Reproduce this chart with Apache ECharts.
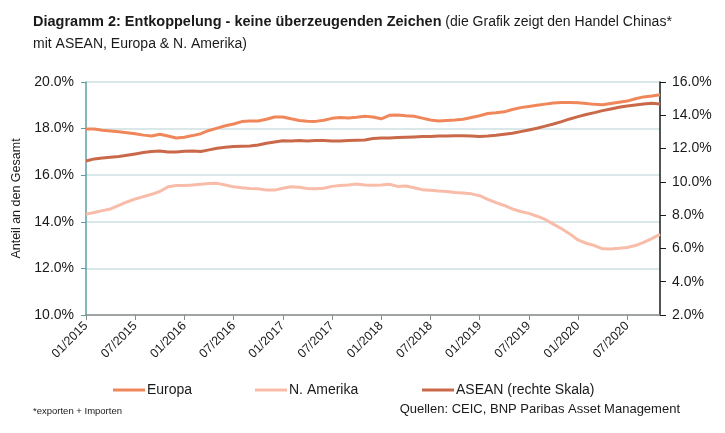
<!DOCTYPE html>
<html>
<head>
<meta charset="utf-8">
<script src="https://cdn.jsdelivr.net/npm/echarts@6/dist/echarts.min.js"></script>
<style>
    html, body { margin: 0; padding: 0; background: #fff; }
    #main { width: 725px; height: 433px; }
</style>
</head>
<body>
<div id="main"></div>
<script>
// Monate 01/2015 - 11/2020
var months = [];
for (var y = 2015; y <= 2020; y++) {
    for (var m = 1; m <= 12; m++) {
        if (y === 2020 && m > 11) break;
        months.push((m < 10 ? '0' + m : '' + m) + '/' + y);
    }
}

// Anteil am Handel Chinas in %
var europa = [
    17.98, 17.98, 17.93, 17.90, 17.86, 17.82, 17.78, 17.72, 17.68, 17.76, 17.68, 17.60,
    17.63, 17.70, 17.78, 17.92, 18.02, 18.12, 18.20, 18.30, 18.33, 18.33, 18.40, 18.50,
    18.50, 18.42, 18.35, 18.32, 18.31, 18.36, 18.44, 18.48, 18.46, 18.49, 18.53, 18.50,
    18.42, 18.57, 18.58, 18.55, 18.53, 18.45, 18.37, 18.33, 18.35, 18.37, 18.40, 18.48,
    18.55, 18.65, 18.68, 18.72, 18.82, 18.90, 18.95, 19.00, 19.05, 19.10, 19.12, 19.12,
    19.11, 19.08, 19.04, 19.02, 19.08, 19.13, 19.18, 19.28, 19.36, 19.40, 19.45
];
var nAmerika = [
    14.33, 14.40, 14.48, 14.55, 14.70, 14.85, 14.98, 15.08, 15.18, 15.30, 15.50, 15.56,
    15.56, 15.58, 15.61, 15.64, 15.65, 15.58, 15.50, 15.46, 15.43, 15.42, 15.36, 15.36,
    15.44, 15.50, 15.48, 15.43, 15.42, 15.44, 15.52, 15.56, 15.58, 15.62, 15.58, 15.57,
    15.58, 15.61, 15.52, 15.54, 15.46, 15.38, 15.35, 15.32, 15.30, 15.26, 15.24, 15.20,
    15.12, 14.96, 14.82, 14.70, 14.55, 14.44, 14.36, 14.24, 14.10, 13.90, 13.70, 13.48,
    13.22, 13.08, 12.98, 12.84, 12.83, 12.86, 12.90, 12.98, 13.12, 13.28, 13.46
];
// rechte Skala
var asean = [
    11.25, 11.38, 11.43, 11.48, 11.52, 11.60, 11.68, 11.76, 11.83, 11.85, 11.80, 11.80,
    11.84, 11.86, 11.82, 11.92, 12.02, 12.08, 12.12, 12.14, 12.16, 12.22, 12.32, 12.40,
    12.47, 12.46, 12.48, 12.46, 12.48, 12.48, 12.46, 12.45, 12.48, 12.50, 12.52, 12.60,
    12.63, 12.63, 12.66, 12.68, 12.70, 12.72, 12.73, 12.75, 12.76, 12.77, 12.77, 12.76,
    12.73, 12.75, 12.80, 12.86, 12.92, 13.02, 13.12, 13.22, 13.35, 13.48, 13.62, 13.78,
    13.92, 14.05, 14.16, 14.28, 14.38, 14.48, 14.56, 14.62, 14.68, 14.72, 14.68
];

var FONT = "'Liberation Sans Narrow', 'Liberation Sans', Arial, sans-serif";

show();

function show() {
    var myChart = echarts.init(document.getElementById('main'));

    function pct(v) {
        return v.toFixed(1) + '%';
    }

    var option = {
        backgroundColor: '#fff',
        animation: false,
        textStyle: { fontFamily: FONT },
        title: [
            {
                left: 33,
                top: 11,
                padding: 0,
                text: '{b|Diagramm 2: Entkoppelung - keine überzeugenden Zeichen} (die Grafik zeigt den Handel Chinas*\nmit ASEAN, Europa & N. Amerika)',
                textStyle: {
                    fontFamily: FONT,
                    fontSize: 14,
                    fontWeight: 'normal',
                    color: '#1a1a1a',
                    lineHeight: 22,
                    rich: {
                        b: { fontFamily: FONT, fontSize: 14.5, fontWeight: 'bold', color: '#1a1a1a', lineHeight: 22 }
                    }
                }
            },
            {
                left: 33,
                top: 406,
                padding: 0,
                text: '*exporten + Importen',
                textStyle: { fontFamily: FONT, fontSize: 9.5, fontWeight: 'normal', color: '#1a1a1a' }
            },
            {
                right: 45,
                top: 403,
                padding: 0,
                text: 'Quellen: CEIC, BNP Paribas Asset Management',
                textStyle: { fontFamily: FONT, fontSize: 13, fontWeight: 'normal', color: '#1a1a1a' }
            }
        ],
        legend: [
            {
                left: 108, top: 378, icon: 'rect', itemWidth: 32, itemHeight: 3, itemGap: 2,
                data: ['Europa'],
                textStyle: { fontFamily: FONT, fontSize: 14, color: '#1a1a1a', padding: [0, 0, 0, -3] }
            },
            {
                left: 250, top: 378, icon: 'rect', itemWidth: 32, itemHeight: 3, itemGap: 2,
                data: ['N. Amerika'],
                textStyle: { fontFamily: FONT, fontSize: 14, color: '#1a1a1a', padding: [0, 0, 0, -3] }
            },
            {
                left: 417, top: 378, icon: 'rect', itemWidth: 32, itemHeight: 3, itemGap: 2,
                data: ['ASEAN (rechte Skala)'],
                textStyle: { fontFamily: FONT, fontSize: 14, color: '#1a1a1a', padding: [0, 0, 0, -3] }
            }
        ],
        grid: { left: 86, right: 65, top: 82, bottom: 118 },
        xAxis: {
            type: 'category',
            data: months,
            boundaryGap: false,
            axisLine: { lineStyle: { color: '#8c8c8c', width: 1.5 } },
            axisTick: { interval: 5, length: 5, lineStyle: { color: '#8c8c8c' } },
            axisLabel: {
                interval: 5,
                rotate: 45,
                fontFamily: FONT,
                fontSize: 12.5,
                color: '#1a1a1a',
                margin: 9
            },
            splitLine: { show: false }
        },
        yAxis: [
            {
                type: 'value',
                min: 10,
                max: 20,
                interval: 2,
                name: 'Anteil an den Gesamt',
                nameLocation: 'middle',
                nameGap: 58,
                nameTextStyle: { fontFamily: FONT, fontSize: 12.5, color: '#1a1a1a' },
                axisLine: { show: true, lineStyle: { color: '#5b9ea6', width: 1.5 } },
                axisTick: { show: true, length: 5, lineStyle: { color: '#5b9ea6' } },
                axisLabel: { formatter: pct, fontFamily: FONT, fontSize: 14, color: '#1a1a1a', margin: 12 },
                splitLine: { lineStyle: { color: '#cfe0e3', width: 1.5 } }
            },
            {
                type: 'value',
                min: 2,
                max: 16,
                interval: 2,
                position: 'right',
                axisLine: { show: true, lineStyle: { color: '#1a1a1a', width: 1.5 } },
                axisTick: { show: true, length: 6, lineStyle: { color: '#1a1a1a' } },
                axisLabel: { formatter: pct, fontFamily: FONT, fontSize: 14, color: '#1a1a1a', margin: 12 },
                splitLine: { show: false }
            }
        ],
        series: [
            {
                name: 'Europa',
                type: 'line',
                data: europa,
                yAxisIndex: 0,
                showSymbol: false,
                color: '#f0875a',
                lineStyle: { width: 3, color: '#f0875a' }
            },
            {
                name: 'N. Amerika',
                type: 'line',
                data: nAmerika,
                yAxisIndex: 0,
                showSymbol: false,
                color: '#f8bca9',
                lineStyle: { width: 3, color: '#f8bca9' }
            },
            {
                name: 'ASEAN (rechte Skala)',
                type: 'line',
                data: asean,
                yAxisIndex: 1,
                showSymbol: false,
                color: '#c9694a',
                lineStyle: { width: 3, color: '#c9694a' }
            }
        ]
    };

    myChart.setOption(option);
}
</script>
</body>
</html>
